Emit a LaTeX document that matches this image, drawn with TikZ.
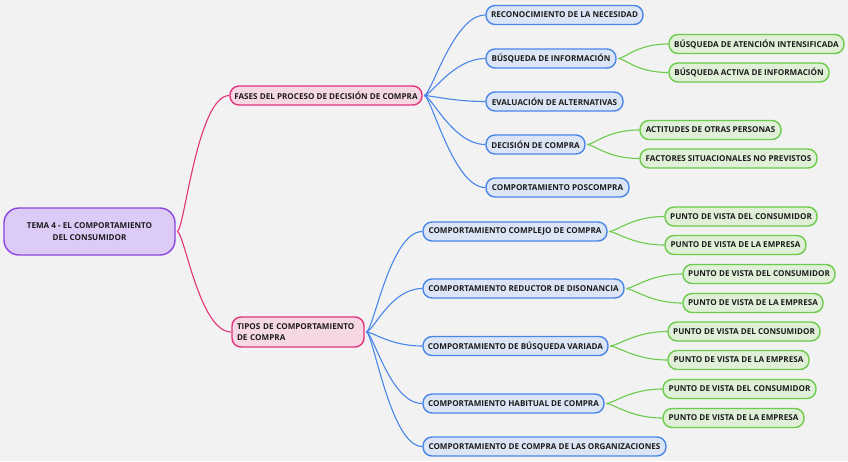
\documentclass[tikz,border=0pt]{standalone}
\usepackage{fontspec}
\setmainfont{Open Sans}
\definecolor{bgc}{HTML}{F2F2F2}
\definecolor{purD}{HTML}{8B44E0}
\definecolor{purF}{HTML}{DCCBF7}
\definecolor{pinkD}{HTML}{E2337A}
\definecolor{pinkF}{HTML}{F6D8E5}
\definecolor{bluD}{HTML}{4A86E8}
\definecolor{bluF}{HTML}{DCE5F5}
\definecolor{grnD}{HTML}{6CCB4A}
\definecolor{grnF}{HTML}{E0F0D8}
\definecolor{txt}{HTML}{1C1C1C}
\tikzset{
  box/.style={rectangle, rounded corners=9pt, line width=1.4pt, minimum height=19pt,
    inner sep=0pt, text=txt, font=\bfseries\fontsize{8.1}{11.2}\selectfont},
  rootbox/.style={box, draw=purD, fill=purF, rounded corners=15pt, align=center},
  pinkbox/.style={box, draw=pinkD, fill=pinkF},
  bluebox/.style={box, draw=bluD, fill=bluF},
  grnbox/.style={box, draw=grnD, fill=grnF},
  pinkline/.style={draw=pinkD, line width=1.1pt},
  blueline/.style={draw=bluD, line width=1.1pt},
  grnline/.style={draw=grnD, line width=1.1pt},
}
\newcommand\mylink[3]{\draw[#1] ([xshift=1.5pt]#2.east) .. controls +(7,0) and +(-32,0) .. (#3.west);}
\begin{document}
\begin{tikzpicture}[x=1pt,y=-1pt]
\fill[bgc] (0,0) rectangle (848,461);
\useasboundingbox (0,0) rectangle (848,461);
% root
\node[rootbox, minimum width=171pt, minimum height=47pt] (root) at (89.5,231.5) {TEMA 4 - EL COMPORTAMIENTO\\DEL CONSUMIDOR};
% level 1
\node[pinkbox, minimum width=192pt] (fases) at (326,95.5) {FASES DEL PROCESO DE DECISIÓN DE COMPRA};
\node[pinkbox, minimum width=132pt, minimum height=30pt, align=left, text width=122pt] (tipos) at (298,332) {TIPOS DE COMPORTAMIENTO\\DE COMPRA};
% level 2 top
\node[bluebox, minimum width=157pt] (rec) at (564.5,15) {RECONOCIMIENTO DE LA NECESIDAD};
\node[bluebox, minimum width=130pt] (bus) at (551,58.5) {BÚSQUEDA DE INFORMACIÓN};
\node[bluebox, minimum width=137pt] (eva) at (554.5,101.5) {EVALUACIÓN DE ALTERNATIVAS};
\node[bluebox, minimum width=99pt] (dec) at (535.5,144.5) {DECISIÓN DE COMPRA};
\node[bluebox, minimum width=143pt] (pos) at (557.5,187.5) {COMPORTAMIENTO POSCOMPRA};
% level 3 top
\node[grnbox, minimum width=175pt] (bai) at (756.5,44) {BÚSQUEDA DE ATENCIÓN INTENSIFICADA};
\node[grnbox, minimum width=160pt] (bac) at (749,72.5) {BÚSQUEDA ACTIVA DE INFORMACIÓN};
\node[grnbox, minimum width=141pt] (act) at (710.5,130) {ACTITUDES DE OTRAS PERSONAS};
\node[grnbox, minimum width=177pt] (fac) at (728.5,158.5) {FACTORES SITUACIONALES NO PREVISTOS};
% level 2 bottom
\node[bluebox, minimum width=184pt] (cc) at (515,231.5) {COMPORTAMIENTO COMPLEJO DE COMPRA};
\node[bluebox, minimum width=201pt] (cr) at (523.5,288.5) {COMPORTAMIENTO REDUCTOR DE DISONANCIA};
\node[bluebox, minimum width=185pt] (cv) at (515.5,346) {COMPORTAMIENTO DE BÚSQUEDA VARIADA};
\node[bluebox, minimum width=181pt] (ch) at (513.5,403.5) {COMPORTAMIENTO HABITUAL DE COMPRA};
\node[bluebox, minimum width=243pt] (co) at (544.5,446.5) {COMPORTAMIENTO DE COMPRA DE LAS ORGANIZACIONES};
% level 3 bottom
\node[grnbox, minimum width=152pt] (ccc) at (741,216.5) {PUNTO DE VISTA DEL CONSUMIDOR};
\node[grnbox, minimum width=141pt] (cce) at (735.5,245) {PUNTO DE VISTA DE LA EMPRESA};
\node[grnbox, minimum width=152pt] (crc) at (759,274) {PUNTO DE VISTA DEL CONSUMIDOR};
\node[grnbox, minimum width=140pt] (cre) at (753,303) {PUNTO DE VISTA DE LA EMPRESA};
\node[grnbox, minimum width=152pt] (cvc) at (744,331.5) {PUNTO DE VISTA DEL CONSUMIDOR};
\node[grnbox, minimum width=141pt] (cve) at (738.5,360) {PUNTO DE VISTA DE LA EMPRESA};
\node[grnbox, minimum width=153pt] (chc) at (739.5,389) {PUNTO DE VISTA DEL CONSUMIDOR};
\node[grnbox, minimum width=141pt] (che) at (733.5,418) {PUNTO DE VISTA DE LA EMPRESA};
% connectors
\foreach \c in {fases,tipos} {\mylink{pinkline}{root}{\c}}
\foreach \c in {rec,bus,eva,dec,pos} {\mylink{blueline}{fases}{\c}}
\foreach \c in {cc,cr,cv,ch,co} {\mylink{blueline}{tipos}{\c}}
\foreach \c in {bai,bac} {\mylink{grnline}{bus}{\c}}
\foreach \c in {act,fac} {\mylink{grnline}{dec}{\c}}
\foreach \c in {ccc,cce} {\mylink{grnline}{cc}{\c}}
\foreach \c in {crc,cre} {\mylink{grnline}{cr}{\c}}
\foreach \c in {cvc,cve} {\mylink{grnline}{cv}{\c}}
\foreach \c in {chc,che} {\mylink{grnline}{ch}{\c}}
\end{tikzpicture}
\end{document}
